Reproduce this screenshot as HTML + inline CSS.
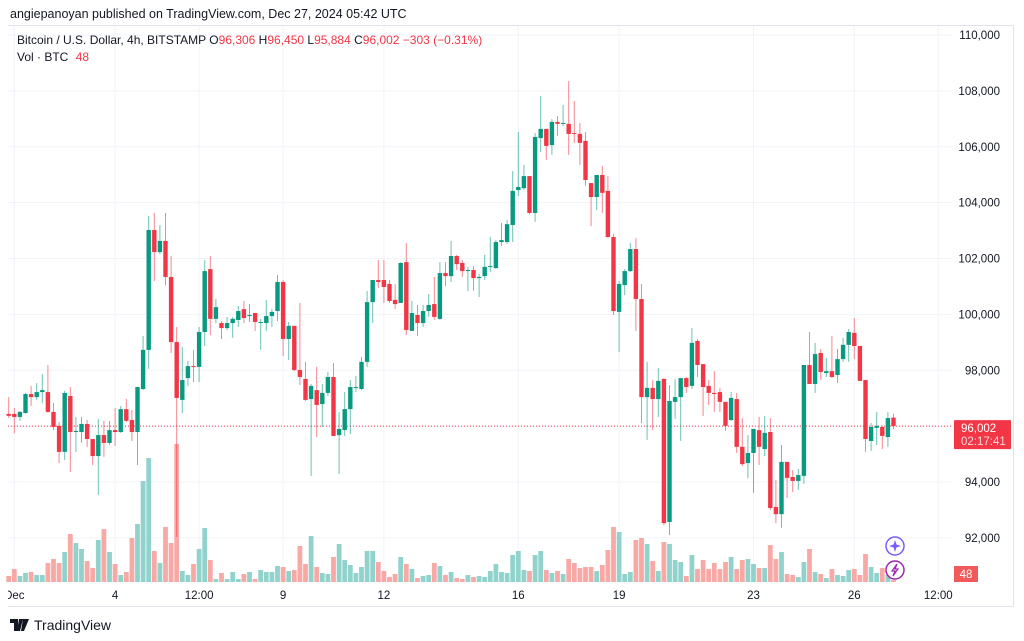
<!DOCTYPE html>
<html><head><meta charset="utf-8"><style>
html,body{margin:0;padding:0;background:#fff;width:1024px;height:641px;overflow:hidden;font-family:"Liberation Sans",sans-serif;}
#hdr{position:absolute;left:10px;top:7px;font-size:12.5px;color:#131722;}
#frame{position:absolute;left:8px;top:25px;width:1006px;height:582px;border:1px solid #e0e3eb;border-left:none;box-sizing:border-box;}
svg{position:absolute;left:0;top:0;}
#foot{position:absolute;left:10px;top:617px;font-size:14px;color:#131722;display:flex;align-items:center;gap:4px;}
</style></head><body>
<div id="hdr">angiepanoyan published on TradingView.com, Dec 27, 2024 05:42 UTC</div>
<div id="frame"></div>
<svg id="chart" width="1024" height="641"></svg>
<div id="foot">
<svg width="20" height="12" style="position:static"><path d="M0 0h8v12h-4v-8h-4z M9 0h4l-3 12h-3z M13 0h6l-5 12h-3z" fill="#131722"/></svg>
<span>TradingView</span></div>
<script>
const openP=[96440,96440,96330,96470,97150,97040,97220,97220,96510,96010,95080,97080,95790,95790,96080,95540,94930,95680,95400,95860,95790,96610,96220,95790,97330,98730,103020,102230,102630,101340,99010,96940,97720,98150,98120,99370,101620,99840,99690,99510,99690,99800,100190,99940,100050,99730,99690,99940,100120,101160,99120,99590,98010,97690,96970,97290,96790,97190,97760,95680,95860,96610,97400,97330,98300,100440,101230,101230,101090,100520,100410,101870,99410,99980,99690,100120,100370,99840,101480,101370,102090,101840,101550,101590,101300,101370,101700,101660,102590,102590,103200,104450,104520,104950,103630,106310,106640,106060,106890,106850,106820,106490,106460,106210,104700,104200,104990,104420,102770,100090,101050,101550,102340,100550,97040,97370,96970,97690,92570,96870,97040,97720,97440,99050,98220,97440,97190,97220,96870,96220,96970,95260,94680,95040,95860,95180,95790,93110,92850,94720,94180,94040,94220,98190,97510,98620,97900,97970,97830,98400,98910,99340,98870,97650,95470,95940,95970,95610,96306];
const highP=[97040,96650,96540,97190,97440,97540,97870,98190,96830,96150,97260,97400,96330,96330,96220,95540,96260,96190,96190,96650,96720,96970,96580,97400,99230,103520,103630,103200,103630,102090,99550,98830,98330,98730,99550,101950,102090,100550,99760,99910,99910,100300,100480,100370,100050,99840,100520,100190,101410,101230,99730,99590,100410,98300,97510,98120,97510,97940,98260,96510,97220,97650,97800,98480,100840,101230,101950,101950,101230,101090,101870,102550,100480,100340,100340,100730,101340,101870,101870,102630,102130,101950,101700,101730,101450,102130,102770,102660,103270,103380,105130,106530,105350,104950,106490,107820,106640,106990,107100,107500,108350,107640,106850,106530,104700,104990,105310,104950,102880,101190,101620,102550,102730,101090,98300,97650,98080,97720,97470,97690,97720,97760,99510,99120,98220,97650,97970,97370,96870,97220,97190,96290,95680,95900,96330,96360,96290,94070,95330,94720,94430,94470,98190,99370,98980,98760,98440,99230,98760,99160,99480,99870,98870,97650,96110,96510,96010,96510,96450];
const lowP=[96290,95750,96190,96440,96720,96940,96830,96470,95860,94680,94790,94360,95080,95400,95250,94610,93540,94900,95330,95290,95760,96150,95470,94610,97290,98050,101190,102160,101050,98620,92030,96470,97440,97580,97580,98870,99260,99690,99120,99440,99160,99550,99690,99730,99410,98730,99410,99550,99760,98510,98370,97970,97470,96900,94220,95610,95970,97080,95650,94290,95650,95720,97220,97290,98120,99690,100940,100410,100410,100190,100410,99260,99410,99230,99550,99910,99800,99800,101020,101160,101590,101340,100840,100840,100620,101230,101520,101620,102450,102520,102590,104240,104450,103590,103310,105810,105530,105710,106390,106740,105710,106140,105350,104600,103160,103740,103630,102730,99980,98650,100690,101520,99410,96110,95510,95860,96330,92460,92100,96260,95470,97190,97330,97760,96360,96760,96510,96510,95830,96190,95040,94570,94140,93610,94610,94930,93000,92530,92360,93430,93640,93720,93930,97510,97190,97650,97760,97720,97540,98300,98300,98400,97620,95080,95110,95330,95180,95260,95884];
const closeP=[96370,96330,96510,97150,97040,97220,97290,96510,95970,95080,97190,95790,95830,96080,95540,94930,95680,95400,95860,95790,96610,96190,95790,97400,98730,103020,102230,102630,101340,99010,97010,97650,98150,98120,99370,101550,99840,100260,99510,99690,99840,100120,99870,99980,99730,99730,99940,100090,101160,99120,99590,98010,97760,96940,97440,96760,97190,97760,95650,95900,96610,97400,97400,98300,100440,101230,101160,100980,100480,100370,101840,99440,100050,99690,100120,100340,99910,101480,101370,102090,101800,101550,101590,101300,101340,101700,101730,102590,102660,103230,104420,104560,104950,103630,106350,106640,106030,106890,106820,106850,106460,106460,106140,104810,104200,104990,104350,102770,100120,101090,101550,102340,100550,97040,97370,96970,97620,92530,96900,97040,97720,97400,98980,98190,97400,97190,97150,96870,96010,97010,95260,94640,95040,95900,95260,95760,93070,92850,94720,94150,94040,94250,98190,97510,98580,97940,97970,97760,98400,98910,99370,98870,97620,95540,95970,96010,95650,96290,96002];
const volume=[6,13,6,9,10,7,7,19,23,19,30,48,39,33,21,14,42,53,30,18,7,10,44,58,101,124,31,19,55,39,138,11,7,18,33,54,22,3,9,3,10,3,8,10,3,12,10,10,16,15,11,12,36,18,46,15,9,8,25,38,22,17,9,15,31,31,20,11,5,8,25,18,13,4,6,7,19,16,7,10,4,3,7,5,6,5,11,18,10,9,27,31,12,11,27,31,12,9,11,8,23,19,14,15,15,11,17,32,55,50,8,10,42,44,38,21,11,40,38,22,20,6,27,13,22,13,19,13,20,25,13,22,23,18,14,14,37,23,30,8,7,5,20,33,10,8,4,13,7,6,12,13,7,28,15,9,14,7,2];
const priceTicks=[110000,108000,106000,104000,102000,100000,98000,96000,94000,92000];
const timeLabels=["Dec","4","12:00","9","12","16","19","23","26","12:00"];
const timeIdx=[1,19,34,49,67,91,109,133,151,166];
const lastPrice=96002;
const lastVolumeLabel="48";

const NS="http://www.w3.org/2000/svg";
const svg=document.getElementById('chart');
const PL=8,PR=953,PT=26,PB=583;
const yP=p=>35+(110000-p)*0.02794;
const xI=i=>8.7+i*5.6;
const vH=v=>v*1.0;
function mk(tag,attrs,parent){const e=document.createElementNS(NS,tag);for(const k in attrs)e.setAttribute(k,attrs[k]);(parent||svg).appendChild(e);return e;}
const grid=mk('g',{});


priceTicks.forEach(p=>{
  const l=mk('line',{x1:PL,x2:PR,y1:yP(p),y2:yP(p),stroke:'#f0f3fa','stroke-width':1},grid);
  
  
  const t=mk('text',{x:1000,y:yP(p)+4,'text-anchor':'end','font-size':'11.5',fill:'#131722','font-family':'Liberation Sans, sans-serif'});
  t.textContent=p.toLocaleString('en-US');
  
  
});
timeIdx.forEach((ix,j)=>{
  const x=xI(ix);
  const l=mk('line',{x1:x,x2:x,y1:PT,y2:PB,stroke:'#f0f3fa','stroke-width':1},grid);
  
  
  const t=mk('text',{x:x,y:599,'text-anchor':'middle','font-size':'11.5',fill:'#131722','font-family':'Liberation Sans, sans-serif'});
  t.textContent=timeLabels[j];
  
  
});
// mask area left of frame
const m=mk('rect',{x:0,y:585,width:8,height:20,fill:'#fff'});


const vg=mk('g',{});


volume.forEach((v,i)=>{
  const up=closeP[i]>=openP[i];
  const h=vH(v);
  const r=mk('rect',{x:xI(i)-2.4,y:PB-1-h,width:4.8,height:h,fill:up?'#92d2cc':'#f8a9a6'},vg);
  
  
});
const pl=mk('line',{x1:PL,x2:PR,y1:yP(lastPrice),y2:yP(lastPrice),stroke:'#f23645','stroke-width':1,'stroke-dasharray':'1,2'});


const cg=mk('g',{});


openP.forEach((o,i)=>{
  const c=closeP[i],up=c>=o,col=up?'#089981':'#f23645',x=xI(i);
  const w=mk('line',{x1:x,x2:x,y1:yP(highP[i]),y2:yP(lowP[i]),stroke:col,'stroke-width':1,opacity:0.6},cg);
  
  
  const top=yP(Math.max(o,c)),bot=yP(Math.min(o,c));
  const b=mk('rect',{x:x-2.2,y:top,width:4.4,height:Math.max(1,bot-top),fill:col},cg);
  
  
});
// last price label
const ly=yP(lastPrice);
const lb=mk('rect',{x:954,y:ly-6,width:57,height:29,fill:'#f23645',rx:1});


const lt=mk('text',{x:961,y:ly+6,'font-size':'11.5',fill:'#fff','font-family':'Liberation Sans, sans-serif'});
lt.textContent=lastPrice.toLocaleString('en-US');


const lt2=mk('text',{x:961,y:ly+19,'font-size':'11.5',fill:'#ffd6d9','font-family':'Liberation Sans, sans-serif'});
lt2.textContent='02:17:41';


const vb=mk('rect',{x:954,y:566,width:24,height:16,fill:'#f05a5a'});


const vt=mk('text',{x:966,y:578,'text-anchor':'middle','font-size':'11.5',fill:'#fff','font-family':'Liberation Sans, sans-serif'});
vt.textContent=lastVolumeLabel;


// icons
const i1=mk('circle',{cx:895,cy:546,r:9,fill:'#fff',stroke:'#7b5cff','stroke-width':1.5});


const i1t=mk('path',{d:'M895 540 L896.5 544.5 L901 546 L896.5 547.5 L895 552 L893.5 547.5 L889 546 L893.5 544.5 Z',fill:'#7b5cff'});


const i2=mk('circle',{cx:895,cy:570,r:9,fill:'#fff',stroke:'#9c27b0','stroke-width':1.5});


const i2t=mk('path',{d:'M897 564 L892 571 L895 571 L893 576 L898 569 L895 569 Z',fill:'none',stroke:'#9c27b0','stroke-width':1.2});


// legend
const lg=mk('text',{x:17,y:44,'font-size':'12','font-family':'Liberation Sans, sans-serif',fill:'#131722'});


lg.innerHTML='Bitcoin / U.S. Dollar, 4h, BITSTAMP  <tspan fill="#131722"> O</tspan><tspan fill="#f23645">96,306</tspan><tspan> H</tspan><tspan fill="#f23645">96,450</tspan><tspan> L</tspan><tspan fill="#f23645">95,884</tspan><tspan> C</tspan><tspan fill="#f23645">96,002  −303 (−0.31%)</tspan>';
const lg2=mk('text',{x:17,y:61,'font-size':'12','font-family':'Liberation Sans, sans-serif',fill:'#131722'});


lg2.innerHTML='Vol · BTC <tspan fill="#f23645" dx="4">48</tspan>';
</script>
</body></html>
